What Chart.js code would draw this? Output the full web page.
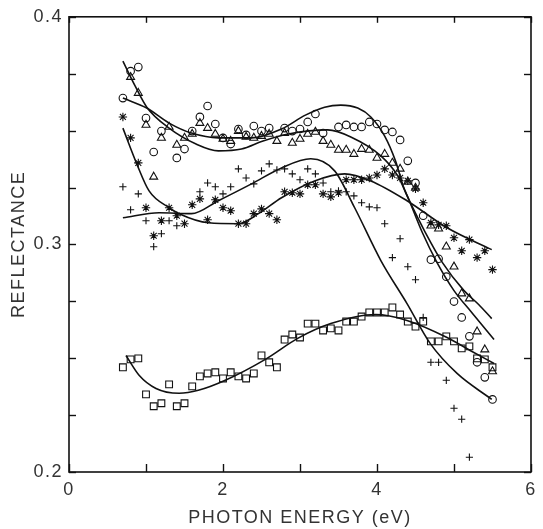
<!DOCTYPE html>
<html><head><meta charset="utf-8">
<script src="https://cdn.jsdelivr.net/npm/chart.js@4"></script>
<style>html,body{margin:0;padding:0;background:#fff}#wrap{width:543px;height:529px}</style>
</head><body><div id="wrap"><canvas id="c" width="543" height="529"></canvas></div>
<script>
// ---------- data ----------
const xTickLabels = ['0', '2', '4', '6'];
const yTickLabels = ['0.2', '0.3', '0.4'];

const energy = [0.7,0.8,0.9,1.0,1.1,1.2,1.3,1.4,1.5,1.6,1.7,1.8,1.9,2.0,2.1,2.2,2.3,2.4,2.5,2.6,2.7,2.8,2.9,3.0,3.1,3.2,3.3,3.4,3.5,3.6,3.7,3.8,3.9,4.0,4.1,4.2,4.3,4.4,4.5,4.6,4.7,4.8,4.9,5.0,5.1,5.2,5.3,5.4,5.5];

const circlesX = [0.7,0.8,0.9,1.0,1.1,1.2,1.4,1.5,1.6,1.7,1.8,1.9,2.0,2.1,2.2,2.3,2.4,2.5,2.6,2.8,2.9,3.0,3.1,3.2,3.3,3.5,3.6,3.7,3.8,3.9,4.0,4.1,4.2,4.3,4.4,4.5,4.6,4.7,4.8,4.9,5.0,5.1,5.2,5.3,5.4,5.5];
const circlesY = [0.3643,0.3761,0.3779,0.3555,0.3406,0.3498,0.3380,0.3419,0.3498,0.3560,0.3608,0.3529,0.3468,0.3441,0.3507,0.3481,0.3520,0.3498,0.3511,0.3511,0.3498,0.3507,0.3538,0.3573,0.3489,0.3516,0.3525,0.3516,0.3516,0.3538,0.3529,0.3503,0.3494,0.3459,0.3367,0.3270,0.3126,0.2933,0.2937,0.2858,0.2749,0.2679,0.2596,0.2482,0.2416,0.2319];

const trianglesX = [0.8,0.9,1.0,1.1,1.2,1.3,1.4,1.5,1.6,1.7,1.8,1.9,2.0,2.1,2.2,2.3,2.4,2.5,2.6,2.7,2.8,2.9,3.0,3.1,3.2,3.3,3.4,3.5,3.6,3.7,3.8,3.9,4.0,4.1,4.2,4.3,4.4,4.5,4.7,4.8,4.9,5.0,5.1,5.2,5.3,5.4,5.5];
const trianglesY = [0.3735,0.3665,0.3525,0.3297,0.3468,0.3516,0.3437,0.3468,0.3485,0.3533,0.3511,0.3485,0.3463,0.3454,0.3498,0.3472,0.3468,0.3476,0.3485,0.3454,0.3489,0.3446,0.3463,0.3485,0.3494,0.3454,0.3437,0.3415,0.3415,0.3397,0.3419,0.3415,0.3380,0.3397,0.3358,0.3332,0.3275,0.3248,0.3082,0.3069,0.2990,0.2902,0.2784,0.2762,0.2617,0.2538,0.2442];

const asterisksY = [0.3560,0.3468,0.3358,0.3161,0.3038,0.3104,0.3161,0.3126,0.3091,0.3174,0.3200,0.3108,0.3196,0.3161,0.3148,0.3091,0.3091,0.3135,0.3156,0.3135,0.3108,0.3231,0.3227,0.3222,0.3262,0.3262,0.3222,0.3209,0.3227,0.3284,0.3284,0.3284,0.3292,0.3305,0.3332,0.3305,0.3292,0.3279,0.3244,0.3183,0.3095,0.3086,0.3082,0.3029,0.2972,0.3021,0.2942,0.2972,0.2889];

const plusX = [0.7,0.8,0.9,1.0,1.1,1.2,1.3,1.4,1.7,1.8,1.9,2.0,2.1,2.2,2.3,2.4,2.5,2.6,2.7,2.8,2.9,3.0,3.1,3.2,3.3,3.4,3.5,3.6,3.7,3.8,3.9,4.0,4.1,4.2,4.3,4.4,4.5,4.6,4.7,4.8,4.9,5.0,5.1,5.2];
const plusY = [0.3253,0.3152,0.3222,0.3104,0.2990,0.3047,0.3104,0.3082,0.3231,0.3270,0.3253,0.3222,0.3253,0.3332,0.3292,0.3266,0.3323,0.3354,0.3327,0.3332,0.3310,0.3284,0.3332,0.3310,0.3270,0.3231,0.3235,0.3231,0.3213,0.3183,0.3165,0.3161,0.3091,0.2942,0.3025,0.2902,0.2845,0.2679,0.2482,0.2482,0.2403,0.2280,0.2232,0.2065];

const squaresY = [0.2460,0.2495,0.2499,0.2341,0.2289,0.2302,0.2385,0.2289,0.2302,0.2376,0.2420,0.2433,0.2438,0.2411,0.2438,0.2420,0.2411,0.2433,0.2512,0.2482,0.2460,0.2582,0.2604,0.2591,0.2652,0.2652,0.2622,0.2631,0.2622,0.2661,0.2661,0.2683,0.2701,0.2701,0.2701,0.2723,0.2692,0.2661,0.2639,0.2661,0.2574,0.2574,0.2596,0.2574,0.2543,0.2552,0.2499,0.2495,0.2460];

// fitted curves
const fitCirclesX = [0.70,1.01,1.30,1.59,1.94,2.37,2.76,3.07,3.32,3.53,3.75,3.92,4.10,4.24,4.34,4.42,4.59,4.78,5.00,5.23,5.52];
const fitCirclesY = [0.3643,0.3599,0.3533,0.3489,0.3468,0.3468,0.3507,0.3568,0.3603,0.3612,0.3599,0.3560,0.3476,0.3367,0.3257,0.3192,0.3051,0.2920,0.2797,0.2701,0.2582];

const fitTrianglesX = [0.70,0.86,1.01,1.30,1.65,1.94,2.24,2.52,2.85,3.36,3.66,4.05,4.27,4.42,4.63,4.85,5.13,5.32,5.49];
const fitTrianglesY = [0.3805,0.3695,0.3603,0.3511,0.3441,0.3411,0.3419,0.3454,0.3485,0.3503,0.3472,0.3389,0.3301,0.3192,0.3051,0.2920,0.2797,0.2736,0.2674];

const fitAsterisksX = [0.70,0.88,1.04,1.30,1.43,1.81,2.20,2.46,2.76,3.19,3.58,3.92,4.39,4.91,5.49];
const fitAsterisksY = [0.3511,0.3354,0.3235,0.3161,0.3135,0.3095,0.3091,0.3135,0.3205,0.3279,0.3310,0.3279,0.3192,0.3073,0.2977];

const fitPlusX = [0.70,1.17,1.59,1.94,2.37,2.76,3.14,3.45,3.71,4.05,4.39,4.69,5.04,5.49];
const fitPlusY = [0.3117,0.3139,0.3135,0.3192,0.3266,0.3336,0.3376,0.3323,0.3161,0.2929,0.2740,0.2565,0.2433,0.2319];

const fitSquaresX = [0.74,0.91,1.13,1.43,1.68,2.03,2.55,2.97,3.40,3.98,4.39,4.91,5.21,5.52];
const fitSquaresY = [0.2512,0.2425,0.2367,0.2346,0.2359,0.2403,0.2495,0.2587,0.2652,0.2692,0.2666,0.2591,0.2534,0.2477];

// ---------- chart ----------
const ink = '#111';
const textColor = '#333';
const family = '"Liberation Sans", Arial, sans-serif';

function pts(xs, ys) { return xs.map((x, i) => ({ x: x, y: ys[i] })); }
function marker(label, xs, ys, style, r) {
  return { type: 'scatter', label, data: pts(xs, ys), pointStyle: style, pointRadius: r,
    pointBorderColor: ink, pointBackgroundColor: 'rgba(0,0,0,0)', pointBorderWidth: 1.1,
    borderColor: ink, backgroundColor: 'rgba(0,0,0,0)', showLine: false };
}
function curve(label, xs, ys) {
  return { type: 'line', label, data: pts(xs, ys), borderColor: ink, borderWidth: 1.6,
    pointRadius: 0, cubicInterpolationMode: 'monotone', fill: false };
}

const frame = {
  id: 'frame',
  beforeDraw(chart) { chart.ctx.letterSpacing = '1.5px'; },
  afterDraw(chart) {
    const { ctx, chartArea: a, scales: { x, y } } = chart;
    ctx.save();
    ctx.letterSpacing = '0px';
    ctx.strokeStyle = ink;
    ctx.lineWidth = 1.6;
    ctx.strokeRect(a.left, a.top, a.right - a.left, a.bottom - a.top);
    ctx.lineWidth = 1.4;
    const seg = (x1, y1, x2, y2) => { ctx.beginPath(); ctx.moveTo(x1, y1); ctx.lineTo(x2, y2); ctx.stroke(); };
    x.ticks.forEach(t => {
      const px = Math.round(x.getPixelForValue(t.value)) + 0.5;
      seg(px, a.bottom, px, a.bottom - 8);
      seg(px, a.top, px, a.top + 6);
    });
    y.ticks.forEach(t => {
      const py = Math.round(y.getPixelForValue(t.value)) + 0.5;
      seg(a.left, py, a.left + 7, py);
      seg(a.right, py, a.right - 7, py);
    });
    ctx.restore();
  }
};

new Chart(document.getElementById('c'), {
  data: {
    datasets: [
      curve('fit circles', fitCirclesX, fitCirclesY),
      curve('fit triangles', fitTrianglesX, fitTrianglesY),
      curve('fit asterisks', fitAsterisksX, fitAsterisksY),
      curve('fit plus', fitPlusX, fitPlusY),
      curve('fit squares', fitSquaresX, fitSquaresY),
      marker('circles', circlesX, circlesY, 'circle', 3.8),
      marker('triangles', trianglesX, trianglesY, 'triangle', 4.6),
      marker('asterisks', energy, asterisksY, 'star', 4.2),
      marker('plus', plusX, plusY, 'cross', 3.6),
      marker('squares', energy, squaresY, 'rect', 4.8)
    ]
  },
  options: {
    responsive: false, animation: false, devicePixelRatio: 1,
    layout: { padding: { top: 15, right: 8, left: 0, bottom: 0 } },
    plugins: { legend: { display: false }, tooltip: { enabled: false } },
    scales: {
      x: {
        type: 'linear', position: 'bottom', min: 0, max: 6,
        ticks: { stepSize: 1, autoSkip: false, maxRotation: 0, padding: 7, color: textColor,
          font: { family, size: 18 },
          callback: v => { const s = String(v); return xTickLabels.includes(s) ? s : ''; } },
        grid: { display: false, drawTicks: false }, border: { display: false },
        title: { display: true, text: 'PHOTON ENERGY (eV)', color: textColor,
          font: { family, size: 18 }, padding: { top: 0, bottom: 0 } },
        afterFit(s) { s.height = 57; }
      },
      y: {
        type: 'linear', position: 'left', min: 0.2, max: 0.4,
        ticks: { stepSize: 0.025, autoSkip: false, padding: 6, color: textColor,
          font: { family, size: 18 },
          callback: v => { const s = (Math.round(v * 1000) / 1000).toString(); return yTickLabels.includes(s) ? s : ''; } },
        grid: { display: false, drawTicks: false }, border: { display: false },
        title: { display: true, text: 'REFLECTANCE', color: textColor,
          font: { family, size: 18 }, padding: { top: 8, bottom: 0 } },
        afterFit(s) { s.width = 69; }
      }
    }
  },
  plugins: [frame]
});
</script>
</body></html>
